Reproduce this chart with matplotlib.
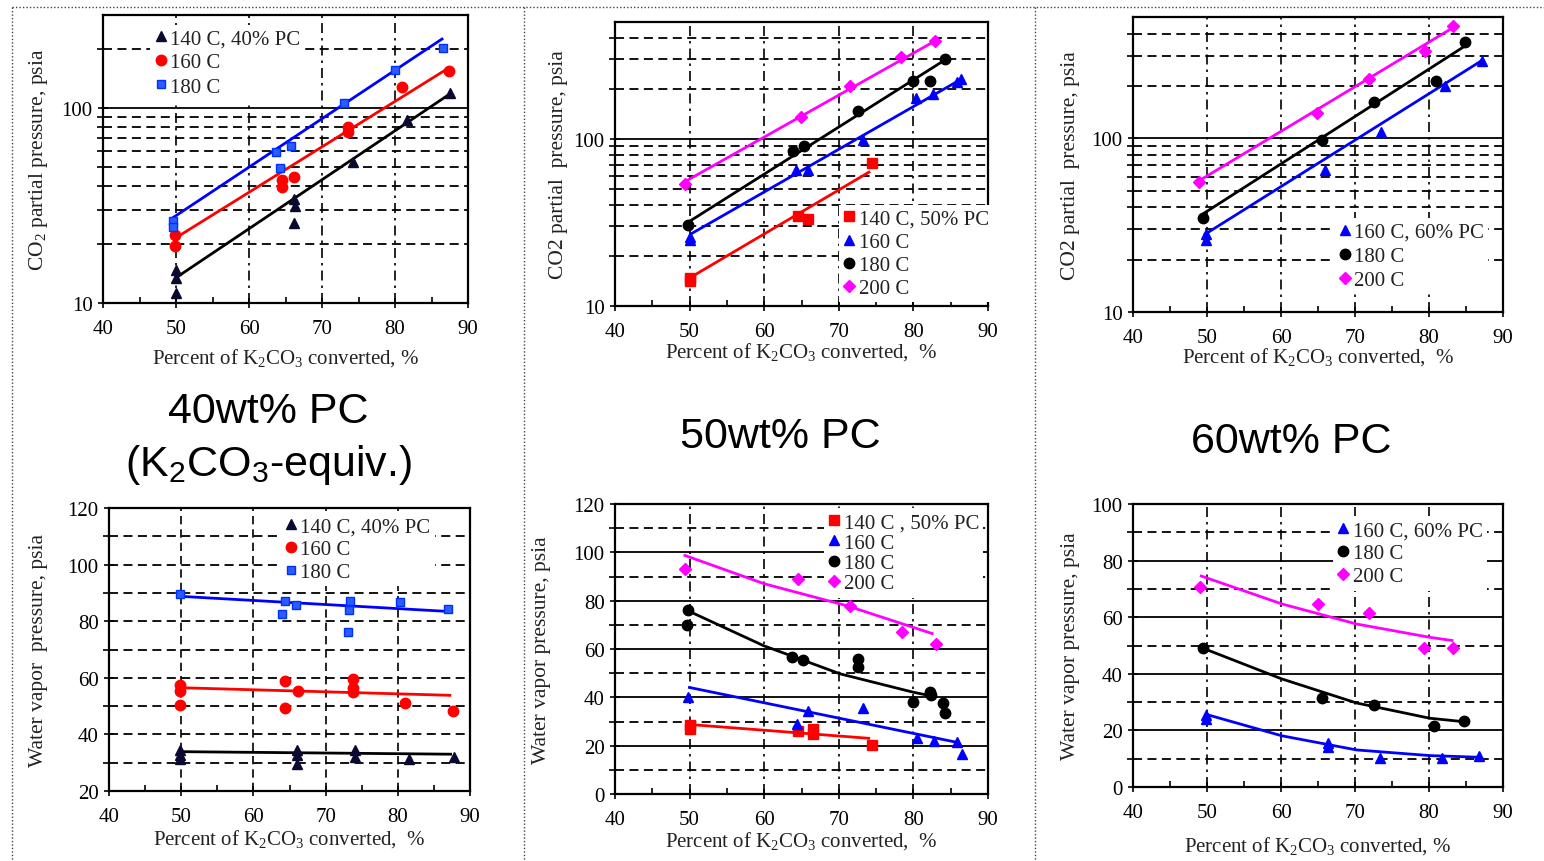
import matplotlib
matplotlib.use('Agg')
import matplotlib.pyplot as plt
from matplotlib.lines import Line2D
from matplotlib.ticker import FixedLocator, NullFormatter, FixedFormatter

plt.rcParams['font.family'] = ['Liberation Serif', 'DejaVu Serif']
plt.rcParams['mathtext.fontset'] = 'stix'

# ---------------- data: panel 1 (40 wt% PC, CO2 partial pressure) ----------------
p1_140_x = [50.0, 50.0, 50.0, 66.1, 66.3, 66.1, 74.2, 81.6, 87.6]
p1_140_y = [14.7, 13.4, 11.2, 34.2, 31.6, 25.8, 52.7, 87, 119]
p1_140_fit_x = [49.9, 87.5]
p1_140_fit_y = [13.4, 118]
p1_160_x = [49.9, 49.9, 64.5, 64.5, 66.2, 73.6, 73.6, 80.9, 87.4]
p1_160_y = [22.2, 19.7, 42.5, 39.3, 44.2, 75, 79.6, 128, 155]
p1_160_fit_x = [49.9, 87.3]
p1_160_fit_y = [21.5, 160]
p1_180_x = [49.6, 49.6, 63.7, 64.2, 65.7, 73.0, 80.0, 86.6]
p1_180_y = [26.2, 24.5, 59.7, 49.1, 64.1, 106, 157, 202]
p1_180_fit_x = [49.2, 86.6]
p1_180_fit_y = [26.8, 228]

# ---------------- panel 2 (50 wt% PC, CO2) ----------------
p2_140_x = [50.1, 50.1, 64.5, 65.9, 74.4]
p2_140_y = [14.8, 14.2, 34.4, 33.2, 71.6]
p2_140_fit_x = [50.1, 74.2]
p2_140_fit_y = [14.8, 63.8]
p2_160_x = [50.0, 50.0, 64.3, 65.9, 73.3, 80.4, 82.6, 85.8, 86.4]
p2_160_y = [25.9, 24.8, 65.4, 65.4, 97.8, 175, 185, 220, 227]
p2_160_fit_x = [50.0, 86.6]
p2_160_fit_y = [26.7, 230]
p2_180_x = [49.8, 63.8, 65.3, 72.6, 79.9, 82.2, 84.2]
p2_180_y = [30.5, 85.1, 90.8, 146, 222, 223, 299]
p2_180_fit_x = [49.8, 84.2]
p2_180_fit_y = [31.7, 296]
p2_200_x = [49.4, 64.9, 71.5, 78.4, 82.9]
p2_200_y = [53.7, 135, 207, 307, 385]
p2_200_fit_x = [49.2, 82.9]
p2_200_fit_y = [54.9, 385]

# ---------------- panel 3 (60 wt% PC, CO2) ----------------
p3_160_x = [49.8, 49.8, 65.9, 73.5, 82.1, 87.1]
p3_160_y = [28.1, 26.1, 65.8, 109, 201, 278]
p3_160_fit_x = [49.6, 87.1]
p3_160_fit_y = [27.8, 280]
p3_180_x = [49.4, 65.6, 72.6, 80.9, 84.8]
p3_180_y = [34.6, 97.5, 162, 213, 361]
p3_180_fit_x = [49.4, 84.8]
p3_180_fit_y = [36.6, 339]
p3_200_x = [48.9, 64.9, 71.9, 79.4, 83.3]
p3_200_y = [55.7, 140, 221, 317, 441]
p3_200_fit_x = [48.9, 83.5]
p3_200_fit_y = [56.9, 441]

# ---------------- panel 4 (40 wt% PC, water vapor) ----------------
p4_140_x = [49.8, 49.8, 49.8, 66.0, 66.0, 66.0, 74.1, 74.1, 81.5, 87.8]
p4_140_y = [34.4, 32.6, 31.4, 34.4, 32.6, 29.6, 34.4, 32.0, 31.4, 32.0]
p4_140_fit_x = [49.8, 87.5]
p4_140_fit_y = [33.9, 33.0]
p4_160_x = [49.8, 49.8, 49.8, 64.4, 64.4, 66.2, 73.8, 73.8, 73.8, 81.0, 87.6]
p4_160_y = [57.3, 55.5, 50.5, 58.7, 49.3, 55.5, 59.6, 56.4, 54.9, 51.1, 48.2]
p4_160_fit_x = [49.8, 87.4]
p4_160_fit_y = [56.5, 53.8]
p4_180_x = [49.8, 64.0, 64.4, 65.9, 73.1, 73.3, 73.4, 80.3, 87.0]
p4_180_y = [89.6, 82.6, 87.3, 85.8, 76.1, 83.8, 87.3, 86.9, 84.4]
p4_180_fit_x = [49.8, 87.3]
p4_180_fit_y = [88.8, 83.4]

# ---------------- panel 5 (50 wt% PC, water vapor) ----------------
p5_140_x = [50.1, 50.1, 64.5, 66.5, 66.5, 74.5]
p5_140_y = [28.4, 26.7, 25.9, 27.0, 24.7, 20.4]
p5_140_fit_x = [50.3, 74.2]
p5_140_fit_y = [28.7, 23.0]
p5_160_x = [49.8, 64.4, 65.9, 73.3, 80.5, 82.8, 85.8, 86.5]
p5_160_y = [40.0, 29.0, 34.5, 35.5, 23.0, 22.1, 21.6, 16.6]
p5_160_fit_x = [49.8, 85.8]
p5_160_fit_y = [44.2, 21.4]
p5_180_x = [49.8, 49.6, 63.7, 65.2, 72.6, 72.6, 79.9, 82.2, 82.4, 84.0, 84.2]
p5_180_y = [76.3, 69.9, 56.6, 55.6, 55.9, 52.4, 38.2, 42.1, 41.1, 37.7, 33.5]
p5_180_fit_x = [49.8, 59.9, 70.2, 80.0, 82.2]
p5_180_fit_y = [75.8, 61.4, 49.7, 42.1, 40.7]
p5_200_x = [49.4, 64.55, 71.5, 78.5, 83.0]
p5_200_y = [93.1, 89.0, 77.7, 67.2, 62.1]
p5_200_fit_x = [49.2, 60.0, 71.1, 82.7]
p5_200_fit_y = [98.9, 87.0, 77.9, 66.2]

# ---------------- panel 6 (60 wt% PC, water vapor) ----------------
p6_160_x = [49.9, 49.9, 66.3, 66.3, 73.4, 81.8, 86.8]
p6_160_y = [25.3, 24.1, 15.6, 14.1, 10.2, 10.2, 10.9]
p6_160_fit_x = [49.7, 60.1, 70.2, 80.1, 86.9]
p6_160_fit_y = [25.8, 18.1, 13.1, 11.1, 10.5]
p6_180_x = [49.5, 65.6, 72.6, 80.7, 84.7]
p6_180_y = [49.1, 31.4, 28.8, 21.4, 23.3]
p6_180_fit_x = [49.5, 60.1, 70.2, 80.1, 84.6]
p6_180_fit_y = [49.0, 38.2, 29.7, 24.3, 23.1]
p6_200_x = [49.1, 65.0, 71.9, 79.3, 83.3]
p6_200_y = [70.6, 64.5, 61.5, 49.1, 49.1]
p6_200_fit_x = [49.05, 60.1, 70.2, 80.1, 83.3]
p6_200_fit_y = [74.7, 64.7, 57.6, 52.9, 51.7]

x_ticks = [40, 50, 60, 70, 80, 90]
x_label = r'Percent of $\mathregular{K_2CO_3}$ converted, %'
x_label_sp = r'Percent of $\mathregular{K_2CO_3}$ converted,  %'
titles = ['40wt% PC', r'(K$\mathregular{_2}$CO$\mathregular{_3}$-equiv.)', '50wt% PC', '60wt% PC']

# ---------------- styles ----------------
BLACK_T = dict(marker='^', color='#0a0a30', ms=7)
RED_O = dict(marker='o', color='#ff0000', ms=7.5)
BLUE_S = dict(marker='s', mfc='#2a5cff', mec='#0030ff', color='#0030ff', ms=6)
RED_S = dict(marker='s', color='#ff0000', ms=7.5)
BLUE_T = dict(marker='^', color='#0000ff', ms=7)
BLACK_O = dict(marker='o', color='#000000', ms=7.5)
MAG_D = dict(marker='D', color='#ff00ff', ms=6)

fig = plt.figure(figsize=(15.44, 8.62), dpi=100)
W, H = 1544, 862


def make_ax(l, t, r, b):
    return fig.add_axes([l / W, 1 - b / H, (r - l) / W, (b - t) / H])


DASH = (0, (5, 3))
DASHDOT = (0, (6, 3, 1.5, 3))


def style(ax, log, ylim, yticks, dashed, solid, vstyle, ylab, xlab, xpad, ypad):
    ax.set_xlim(40, 90)
    if log:
        ax.set_yscale('log')
    ax.set_ylim(*ylim)
    for v in dashed:
        ax.axhline(v, color='black', lw=1.3, ls=DASH, zorder=0.5)
    for v in solid:
        ax.axhline(v, color='black', lw=1.3, ls='-', zorder=0.5)
    for v in [50, 60, 70, 80]:
        ax.axvline(v, color='black', lw=1.2, ls=vstyle, zorder=0.5)
    ax.xaxis.set_major_locator(FixedLocator(x_ticks))
    ax.xaxis.set_minor_locator(FixedLocator([45, 55, 65, 75, 85]))
    ax.yaxis.set_major_locator(FixedLocator(yticks))
    ax.yaxis.set_major_formatter(FixedFormatter([str(v) for v in yticks]))
    ax.yaxis.set_minor_locator(FixedLocator(dashed + solid))
    ax.yaxis.set_minor_formatter(NullFormatter())
    ax.tick_params(axis='x', which='major', direction='inout', length=7, width=1.2, labelsize=15, pad=8)
    ax.tick_params(axis='x', which='minor', direction='in', length=4, width=1.2)
    ax.tick_params(axis='y', which='major', direction='inout', length=7, width=1.2, labelsize=15, pad=4)
    ax.tick_params(axis='y', which='minor', direction='out', length=4, width=1.2)
    for s in ax.spines.values():
        s.set_linewidth(1.6)
    ax.set_ylabel(ylab, fontsize=15.5, color='#222222', labelpad=ypad)
    ax.set_xlabel(xlab, fontsize=15, color='#222222', labelpad=xpad)


def series(ax, x, y, fx, fy, st, lc, label):
    ax.plot(fx, fy, color=lc, lw=2.0, zorder=2, solid_capstyle='butt')
    ax.plot(x, y, ls='none', zorder=3, label=label, **st)


def legend(ax, loc, anchor, spacing):
    lg = ax.legend(loc=loc, bbox_to_anchor=anchor, fontsize=15, frameon=True, facecolor='white',
                   edgecolor='none', fancybox=False, framealpha=1, handlelength=0.6,
                   handletextpad=0.15, labelspacing=spacing, borderpad=0.2, borderaxespad=0)
    lg.set_zorder(5)
    for t in lg.get_texts():
        t.set_color('#222222')


# ----- panel 1 -----
ax1 = make_ax(103, 16, 468, 304)
style(ax1, True, (10, 300), [10, 100], [20, 30, 40, 50, 60, 70, 80, 90, 200], [100], DASHDOT,
      r'$\mathregular{CO_2}$ partial pressure, psia', x_label, 5.5, 8)
series(ax1, p1_140_x, p1_140_y, p1_140_fit_x, p1_140_fit_y, BLACK_T, 'black', '140 C, 40% PC')
series(ax1, p1_160_x, p1_160_y, p1_160_fit_x, p1_160_fit_y, RED_O, '#ff0000', '160 C')
series(ax1, p1_180_x, p1_180_y, p1_180_fit_x, p1_180_fit_y, BLUE_S, '#0000ff', '180 C')
legend(ax1, 'upper left', (0.13, 0.967), 0.22)

# ----- panel 2 -----
ax2 = make_ax(615, 23, 988, 307)
style(ax2, True, (10, 500), [10, 100], [20, 30, 40, 50, 60, 70, 80, 90, 200, 300, 400], [100], DASHDOT,
      'CO2 partial  pressure, psia', x_label_sp, -0.5, 4)
series(ax2, p2_140_x, p2_140_y, p2_140_fit_x, p2_140_fit_y, RED_S, '#ff0000', '140 C, 50% PC')
series(ax2, p2_160_x, p2_160_y, p2_160_fit_x, p2_160_fit_y, BLUE_T, '#0000ff', '160 C')
series(ax2, p2_180_x, p2_180_y, p2_180_fit_x, p2_180_fit_y, BLACK_O, 'black', '180 C')
series(ax2, p2_200_x, p2_200_y, p2_200_fit_x, p2_200_fit_y, MAG_D, '#ff00ff', '200 C')
legend(ax2, 'lower left', (0.6, 0.013), 0.17)

# ----- panel 3 -----
ax3 = make_ax(1133, 18, 1503, 313)
style(ax3, True, (10, 500), [10, 100], [20, 30, 40, 50, 60, 70, 80, 90, 200, 300, 400], [100], DASHDOT,
      'CO2 partial  pressure, psia', x_label_sp, -1.5, 8)
series(ax3, p3_160_x, p3_160_y, p3_160_fit_x, p3_160_fit_y, BLUE_T, '#0000ff', '160 C, 60% PC')
series(ax3, p3_180_x, p3_180_y, p3_180_fit_x, p3_180_fit_y, BLACK_O, 'black', '180 C')
series(ax3, p3_200_x, p3_200_y, p3_200_fit_x, p3_200_fit_y, MAG_D, '#ff00ff', '200 C')
legend(ax3, 'lower left', (0.545, 0.06), 0.22)

# ----- panel 4 -----
ax4 = make_ax(109, 509, 470, 792)
style(ax4, False, (20, 120), [20, 40, 60, 80, 100, 120], [30, 40, 50, 60, 70, 80, 90, 100, 110], [], DASH,
      'Water vapor  pressure, psia', x_label_sp, 0.5, 14)
series(ax4, p4_140_x, p4_140_y, p4_140_fit_x, p4_140_fit_y, BLACK_T, 'black', '140 C, 40% PC')
series(ax4, p4_160_x, p4_160_y, p4_160_fit_x, p4_160_fit_y, RED_O, '#ff0000', '160 C')
series(ax4, p4_180_x, p4_180_y, p4_180_fit_x, p4_180_fit_y, BLUE_S, '#0000ff', '180 C')
legend(ax4, 'upper left', (0.475, 0.983), 0.15)

# ----- panel 5 -----
ax5 = make_ax(615, 505, 988, 795)
style(ax5, False, (0, 120), [0, 20, 40, 60, 80, 100, 120], [10, 30, 50, 70, 90, 110], [20, 40, 60, 80, 100],
      DASHDOT, 'Water vapor pressure, psia', x_label_sp, 0, 16)
series(ax5, p5_140_x, p5_140_y, p5_140_fit_x, p5_140_fit_y, RED_S, '#ff0000', '140 C , 50% PC')
series(ax5, p5_160_x, p5_160_y, p5_160_fit_x, p5_160_fit_y, BLUE_T, '#0000ff', '160 C')
series(ax5, p5_180_x, p5_180_y, p5_180_fit_x, p5_180_fit_y, BLACK_O, 'black', '180 C')
series(ax5, p5_200_x, p5_200_y, p5_200_fit_x, p5_200_fit_y, MAG_D, '#ff00ff', '200 C')
legend(ax5, 'upper left', (0.56, 0.985), 0.04)

# ----- panel 6 -----
ax6 = make_ax(1133, 505, 1503, 788)
style(ax6, False, (0, 100), [0, 20, 40, 60, 80, 100], [10, 30, 50, 70, 90], [20, 40, 60, 80],
      DASHDOT, 'Water vapor pressure, psia', x_label, 9, 8)
series(ax6, p6_160_x, p6_160_y, p6_160_fit_x, p6_160_fit_y, BLUE_T, '#0000ff', '160 C, 60% PC')
series(ax6, p6_180_x, p6_180_y, p6_180_fit_x, p6_180_fit_y, BLACK_O, 'black', '180 C')
series(ax6, p6_200_x, p6_200_y, p6_200_fit_x, p6_200_fit_y, MAG_D, '#ff00ff', '200 C')
legend(ax6, 'upper left', (0.54, 0.956), 0.17)

# ----- middle titles -----
tfont = dict(family=['Liberation Sans', 'DejaVu Sans'], fontsize=31, ha='center', va='center', color='black')
fig.text(268 / W, 1 - 412 / H, titles[0], **tfont)
fig.text(268 / W, 1 - 465 / H, titles[1], **tfont)
fig.text(780 / W, 1 - 437 / H, titles[2], **tfont)
fig.text(1291 / W, 1 - 442 / H, titles[3], **tfont)

# ----- dotted panel separators -----
def fline(x0, y0, x1, y1):
    fig.add_artist(Line2D([x0 / W, x1 / W], [1 - y0 / H, 1 - y1 / H], transform=fig.transFigure,
                          ls=(0, (1, 1.5)), color='#444444', lw=1.0))

fline(12, 8, 1544, 8)
fline(12, 8, 12, 862)
fline(524, 8, 524, 862)
fline(1035, 8, 1035, 862)

fig.savefig('out.png', dpi=100, facecolor='white')
